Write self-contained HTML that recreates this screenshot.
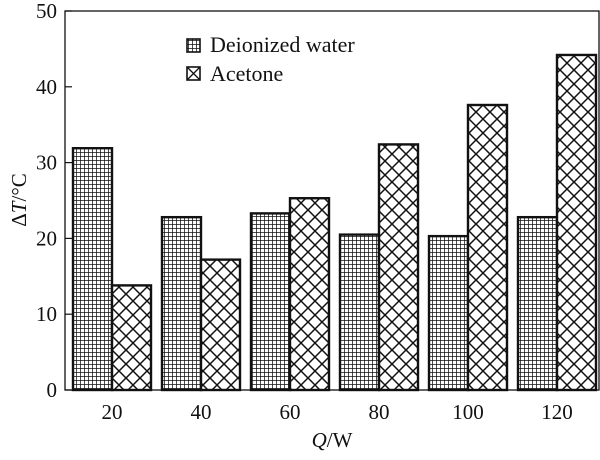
<!DOCTYPE html>
<html><head><meta charset="utf-8"><style>
body{margin:0;background:#fff;width:600px;height:455px;overflow:hidden}
text{font-family:"Liberation Serif",serif;fill:#111}
</style></head><body>
<svg id="chart" width="600" height="455">
<defs>
<pattern id="grid" width="4" height="4" patternUnits="userSpaceOnUse">
<rect width="4" height="4" fill="#fff"/>
<path d="M0 0H4M0 0V4" stroke="#111" stroke-width="1.5"/>
</pattern>
<pattern id="cross" width="14" height="14" patternUnits="userSpaceOnUse">
<rect width="14" height="14" fill="#fff"/>
<path d="M0 0L14 14M14 0L0 14" stroke="#111" stroke-width="1.5"/>
</pattern>
</defs>
<g id="bars"></g>
<rect x="65" y="11" width="534" height="379" fill="none" stroke="#111" stroke-width="1.3"/>
<g id="axes"></g>
<text x="332" y="447" font-size="21" text-anchor="middle"><tspan font-style="italic">Q</tspan>/W</text>
<text transform="translate(26,200) rotate(-90)" font-size="21" text-anchor="middle">Δ<tspan font-style="italic">T</tspan>/°C</text>
<g>
<rect x="187" y="39" width="13" height="13" fill="url(#grid)" stroke="#111" stroke-width="1.6"/>
<text x="210" y="52" font-size="22">Deionized water</text>
<rect x="187" y="67" width="13" height="13" fill="#fff" stroke="#111" stroke-width="1.6"/>
<path d="M187 67L200 80M200 67L187 80" stroke="#111" stroke-width="1.3"/>
<text x="210" y="81" font-size="22">Acetone</text>
</g>
</svg>
<script>
const categories=["20","40","60","80","100","120"];
const water=[31.9,22.8,23.3,20.5,20.3,22.8];
const acetone=[13.8,17.2,25.3,32.4,37.6,44.2];
const yTicks=[0,10,20,30,40,50];
const NS="http://www.w3.org/2000/svg";
const y=v=>390-v*(379/50);
const xc=i=>112+i*89;
const bars=document.getElementById('bars'),axes=document.getElementById('axes');
function mk(t,a,p){const e=document.createElementNS(NS,t);for(const k in a)e.setAttribute(k,a[k]);p.appendChild(e);return e;}
categories.forEach((c,i)=>{
  const b1=mk('rect',{x:xc(i)-39,y:y(water[i]),width:39,height:390-y(water[i]),fill:'url(#grid)',stroke:'#111','stroke-width':2.4},bars);
  
  
  const b2=mk('rect',{x:xc(i),y:y(acetone[i]),width:39,height:390-y(acetone[i]),fill:'url(#cross)',stroke:'#111','stroke-width':2.4},bars);
  
  
  const t=mk('text',{x:xc(i),y:419,'font-size':21,'text-anchor':'middle'},axes);
  t.textContent=c;
  
  
});
yTicks.forEach(v=>{
  const l=mk('line',{x1:65,x2:72,y1:y(v),y2:y(v),stroke:'#111','stroke-width':1.2},axes);
  
  
  const t=mk('text',{x:57,y:y(v)+7,'font-size':21,'text-anchor':'end'},axes);
  t.textContent=v;
  
  
});
</script>
</body></html>
